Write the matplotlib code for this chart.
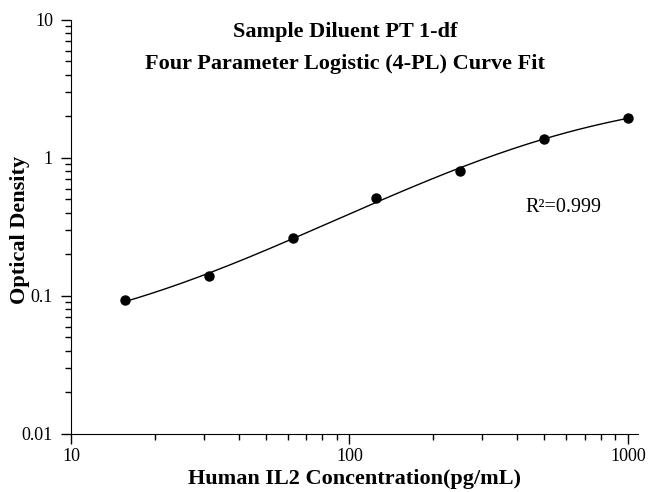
import numpy as np
import matplotlib
matplotlib.use('Agg')
import matplotlib.pyplot as plt
from matplotlib.ticker import LogLocator, NullFormatter, FixedFormatter, FixedLocator

conc = [15.6, 31.25, 62.5, 125, 250, 500, 1000]
od = [0.093, 0.140, 0.263, 0.513, 0.805, 1.37, 1.95]
title_lines = ['Sample Diluent PT 1-df', 'Four Parameter Logistic (4-PL) Curve Fit']
r2_text = 'R\u00b2=0.999'

x = np.array(conc)
y = np.array(od)

# 4-PL fit: grid over slope b and midpoint c, a/d by linear least squares
best = None
for b in np.linspace(0.3, 2.5, 221):
  for c in np.logspace(1.5, 5, 351):
    g = 1.0/(1.0 + (x/c)**b)
    A = np.column_stack([g, 1-g])
    coef, *_ = np.linalg.lstsq(A, y, rcond=None)
    err = np.sum(((A @ coef) - y)**2/y**2)
    if best is None or err < best[0]:
      best = (err, b, c, coef[0], coef[1])
_, b, c, a, d = best

xs = np.logspace(np.log10(x.min()), np.log10(x.max()), 300)
ys = d + (a - d)/(1.0 + (xs/c)**b)

plt.rcParams['font.family'] = ['Liberation Serif', 'DejaVu Serif']

fig = plt.figure(figsize=(6.48, 4.92), dpi=100)
ax = fig.add_axes([0.1096, 0.118, 0.875, 0.8415])

ax.plot(xs, ys, color='black', lw=1.0)
ax.plot(x, y, 'o', color='black', ms=6.5)

ax.set_xscale('log')
ax.set_yscale('log')
ax.set_xlim(10, 1087)
ax.set_ylim(0.01, 10)

ax.xaxis.set_major_locator(FixedLocator([10, 100, 1000]))
ax.xaxis.set_major_formatter(FixedFormatter(['10', '100', '1000']))
ax.yaxis.set_major_locator(FixedLocator([0.01, 0.1, 1, 10]))
ax.yaxis.set_major_formatter(FixedFormatter(['0.01', '0.1', '1', '10']))
ax.xaxis.set_minor_locator(LogLocator(base=10, subs=np.arange(2, 10)))
ax.yaxis.set_minor_locator(LogLocator(base=10, subs=np.arange(2, 10)))
ax.xaxis.set_minor_formatter(NullFormatter())
ax.yaxis.set_minor_formatter(NullFormatter())

ax.spines['top'].set_visible(False)
ax.spines['right'].set_visible(False)
ax.tick_params(which='major', direction='out', length=7, width=1, labelsize=13)
ax.tick_params(axis='y', which='major', pad=6)
ax.tick_params(axis='x', which='major', pad=3)
ax.tick_params(which='minor', direction='out', length=4, width=1)

ax.set_xlabel('Human IL2 Concentration(pg/mL)', fontsize=16, fontweight='bold', labelpad=3)
ax.set_ylabel('Optical Density', fontsize=16, fontweight='bold')
ax.yaxis.set_label_coords(-0.072, 0.493)

ax.text(0.484, 0.971, title_lines[0], transform=ax.transAxes, ha='center', va='center',
        fontsize=16, fontweight='bold')
ax.text(0.484, 0.894, title_lines[1], transform=ax.transAxes, ha='center', va='center',
        fontsize=16, fontweight='bold')
ax.text(0.801, 0.546, r2_text, transform=ax.transAxes, ha='left', va='center', fontsize=14.5)

fig.savefig('out.png', dpi=100)
